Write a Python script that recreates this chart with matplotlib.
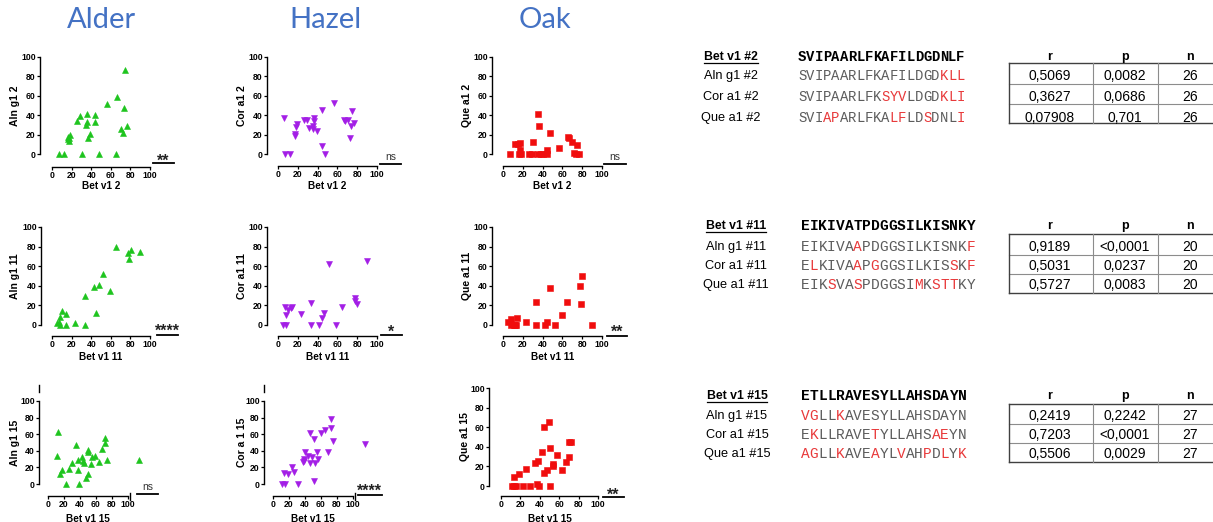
import matplotlib
matplotlib.use("Agg")
import matplotlib.pyplot as plt
from matplotlib.transforms import ScaledTranslation

W, H, DPI = 1213, 522, 100
plt.rcParams['font.family'] = ['Liberation Sans', 'DejaVu Sans']

# ---------------- data ----------------
species_titles = ["Alder", "Hazel", "Oak"]
axis_ticks = [0, 20, 40, 60, 80, 100]

alder2_x = [6.8, 11.9, 30.8, 47.5, 65.8, 74.6, 66.0, 56.6, 73.6, 44.0, 35.6, 28.8, 26.0,
            35.6, 44.0, 35.0, 77.0, 70.0, 39.0, 72.9, 36.3, 18.6, 16.0, 17.0, 17.6, 16.5]
alder2_y = [0, 0, 0, 0, 0, 86.6, 59, 52, 47.6, 40.4, 41, 38.7, 34,
            33, 32.5, 29.5, 28.4, 26, 21, 22, 16.8, 20, 18, 16, 13, 15]
hazel2_x = [6.7, 11.8, 6.1, 19.2, 18.2, 17.5, 16.8, 26.6, 29.6, 31.3, 36.4, 36.4, 35.4,
            35.7, 39.4, 44.4, 47.1, 44.4, 56.9, 66.3, 67.3, 70.4, 74.7, 73.4, 77.1, 72.7]
hazel2_y = [0, 0, 36.8, 30.9, 28.2, 20.6, 18.9, 35.4, 35.4, 27, 37.5, 33.7, 29,
            25.4, 23.7, 8, 0, 45.4, 53, 34.7, 33.7, 34.7, 44.7, 28.9, 32, 16.2]
oak2_x = [6.8, 12.2, 15.3, 17.6, 17.6, 16.0, 18.3, 25.8, 28.8, 30.5, 35.6, 36.3, 35.6,
          37.9, 40.0, 44.0, 44.0, 47.1, 57.0, 65.8, 67.0, 70.2, 74.6, 71.9, 74.0, 77.0]
oak2_y = [0, 10, 10, 11, 4.5, 0, 0, 0, 0, 12.4, 41, 29.2, 0,
          0, 0, 4.5, 0, 21.6, 6.2, 17.2, 16, 12.7, 9.6, 1.4, 0, 0]

alder11_x = [5.4, 7.5, 8.1, 8.5, 10.5, 14.2, 13.9, 23.7, 33.2, 33.9, 42.4, 47.5, 45.1,
             52.5, 59.3, 65.4, 78.0, 78.9, 80.3, 90.2]
alder11_y = [2, 2.7, 0, 8.2, 14, 11.6, 0, 2, 0, 29.3, 38.4, 40.8, 11.9,
             52, 35, 79.3, 73, 67.3, 76.9, 74.1]
hazel11_x = [5.4, 8.1, 7.5, 8.1, 10.2, 13.6, 14.6, 23.0, 32.9, 33.2, 41.7, 44.0, 46.4,
             51.9, 58.3, 64.4, 78.0, 77.3, 80.0, 89.5]
hazel11_y = [0, 0, 18.8, 10.2, 15, 17.7, 18.1, 10.9, 0, 22.2, 0, 7.2, 12.3,
             62.1, 0, 18.4, 27.3, 24.2, 21.2, 64.8]
oak11_x = [5.1, 8.5, 7.8, 10.8, 13.6, 14.6, 23.4, 33.2, 33.6, 42.0, 44.7, 47.1, 52.5,
           59.3, 65.1, 78.0, 78.6, 80.3, 90.2, 12.0]
oak11_y = [3.1, 5.8, 0, 0, 0, 7.1, 2.7, 0, 23.5, 0, 2.7, 38.1, 0,
           10.5, 23.1, 40.1, 21.8, 50.3, 0, 0]

alder15_x = [12.9, 10.8, 14.6, 17.5, 22.5, 25.8, 30.0, 34.6, 37.1, 37.1, 38.8, 42.1, 44.2,
             44.6, 47.1, 49.6, 50.4, 50.0, 53.8, 54.6, 58.3, 63.8, 67.1, 70.8, 71.3, 73.3, 113.3]
alder15_y = [62.2, 33.7, 11.6, 17.3, 0, 17.7, 25.3, 47.4, 29.3, 17.3, 0, 32.9, 27.7,
             25.7, 7.2, 41, 38.6, 12.4, 24.5, 32.5, 34.1, 26.5, 42.2, 55, 49, 28.9, 28.9]
hazel15_x = [11.3, 15.4, 14.2, 18.3, 23.3, 26.7, 30.8, 37.1, 38.3, 38.3, 39.6, 43.3, 45.8,
             45.8, 48.8, 51.3, 52.1, 51.3, 55.0, 55.8, 60.0, 65.4, 68.8, 72.5, 72.5, 74.6, 114.6]
hazel15_y = [0, 0, 13.3, 12.4, 20.9, 14.1, 0, 26.9, 27.3, 30.5, 39, 34.1, 61,
             25.3, 33, 54.2, 25.3, 3.6, 38.6, 29.7, 61.8, 65.5, 38.2, 67.1, 78.7, 51.8, 48.6]
oak15_x = [11.0, 13.0, 15.5, 13.4, 18.2, 23.0, 26.1, 30.2, 35.0, 37.8, 37.5, 38.8, 41.9,
           44.7, 44.3, 47.1, 49.8, 50.2, 50.9, 53.3, 54.0, 57.7, 63.2, 66.7, 70.1, 70.1, 72.5]
oak15_y = [0, 0, 0, 8.9, 12.6, 0, 17.4, 0, 23.2, 25.6, 2.4, 0, 35.2,
           60, 13.7, 16.7, 64.8, 0, 38.9, 22.2, 20.1, 32.1, 16.7, 24.2, 29.4, 44.4, 45.4]

x_labels = ["Bet v1 2", "Bet v1 11", "Bet v1 15"]
y_labels = [["Aln g1 2", "Cor a1 2", "Que a1 2"],
            ["Aln g1 11", "Cor a1 11", "Que a1 11"],
            ["Aln g1 15", "Cor a 1 15", "Que a1 15"]]
sig_labels = [["**", "ns", "ns"], ["****", "*", "**"], ["ns", "****", "**"]]

ref_labels = ["Bet v1 #2", "Bet v1 #11", "Bet v1 #15"]
ref_seqs = ["SVIPAARLFKAFILDGDNLF", "EIKIVATPDGGSILKISNKY", "ETLLRAVESYLLAHSDAYN"]
row_labels = [["Aln g1 #2", "Cor a1 #2", "Que a1 #2"],
              ["Aln g1 #11", "Cor a1 #11", "Que a1 #11"],
              ["Aln g1 #15", "Cor a1 #15", "Que a1 #15"]]
seqs = [["SVIPAARLFKAFILDGDKLL", "SVIPAARLFKSYVLDGDKLI", "SVIAPARLFKALFLDSDNLI"],
        ["EIKIVAAPDGGSILKISNKF", "ELKIVAAPGGGSILKISSKF", "EIKSVASPDGGSIMKSTTKY"],
        ["VGLLKAVESYLLAHSDAYN", "EKLLRAVETYLLAHSAEYN", "AGLLKAVEAYLVAHPDLYK"]]
red_pos = [[[17, 18, 19], [10, 11, 12, 17, 18, 19], [3, 4, 11, 12, 15, 19]],
           [[6, 19], [1, 6, 8, 17, 19], [3, 6, 13, 15, 16, 17]],
           [[0, 1, 4], [1, 8, 15, 16], [0, 1, 4, 8, 11, 14, 16, 18]]]
r_vals = [["0,5069", "0,3627", "0,07908"], ["0,9189", "0,5031", "0,5727"], ["0,2419", "0,7203", "0,5506"]]
p_vals = [["0,0082", "0,0686", "0,701"], ["<0,0001", "0,0237", "0,0083"], ["0,2242", "<0,0001", "0,0029"]]
n_vals = [["26", "26", "26"], ["20", "20", "20"], ["27", "27", "27"]]
table_headers = ["r", "p", "n"]

panel_data = [[(alder2_x, alder2_y), (hazel2_x, hazel2_y), (oak2_x, oak2_y)],
              [(alder11_x, alder11_y), (hazel11_x, hazel11_y), (oak11_x, oak11_y)],
              [(alder15_x, alder15_y), (hazel15_x, hazel15_y), (oak15_x, oak15_y)]]

# ---------------- layout / style ----------------
markers = ['^', 'v', 's']
mcolors = ['#1ec41e', '#a31ee6', '#f00d0d']
title_cx = [101, 325, 545]

# (x0, x1, ytop, ybot, yspine_x, xaxis_y) in pixels
geom = [[(52, 150, 57, 154, 40, 166.5), (278, 377, 57, 154, 267, 166), (503, 602, 57, 154, 492, 166)],
        [(52, 150, 227, 325, 41, 336), (278, 377, 227, 325, 267, 336), (503, 602, 227, 325, 492, 336)],
        [(48, 128, 401, 484, 39, 496), (273, 353, 401, 484, 264, 496), (501, 598, 388, 486, 489, 496)]]
ylabel_cx = [[15, 242, 467], [15, 242, 467], [15, 242, 465]]
xlabel_cy = [186, 357, 519]
# (line x0, line x1, line y, text center y)
sig_geom = [[(153, 174, 163.3, 156.7), (380, 401, 164, 157.7), (604, 626, 164, 157.7)],
            [(156.7, 178.3, 335, 326.7), (381, 401.7, 335, 327.3), (606.7, 627.3, 335.7, 327.3)],
            [(136.7, 158.3, 494, 487.3), (358, 381.7, 495, 486.7), (603, 624, 496.7, 490)]]
broken = [[False, False, False], [False, False, False], [True, True, False]]

fig = plt.figure(figsize=(W / DPI, H / DPI), dpi=DPI)

ov = fig.add_axes([0, 0, 1, 1])
ov.set_xlim(0, W)
ov.set_ylim(H, 0)
ov.axis('off')

def px2pt(p):
    return p * 72.0 / DPI

for i in range(3):
    for j in range(3):
        x0, x1, yt, yb, sx, xa = geom[i][j]
        ax = fig.add_axes([x0 / W, 1 - yb / H, (x1 - x0) / W, (yb - yt) / H])
        ax.patch.set_alpha(0)
        ax.set_xlim(0, 100)
        ax.set_ylim(0, 100)
        for s in ['top', 'right']:
            ax.spines[s].set_visible(False)
        ax.spines['left'].set_position(('outward', px2pt(x0 - sx)))
        ax.spines['bottom'].set_position(('outward', px2pt(xa - yb)))
        ax.spines['left'].set_bounds(0, 100)
        ax.spines['bottom'].set_bounds(0, 100)
        for s in ['left', 'bottom']:
            ax.spines[s].set_linewidth(1.0)
        ax.set_xticks(axis_ticks)
        ax.set_yticks(axis_ticks)
        ax.set_xticklabels([str(t) for t in axis_ticks], fontweight='bold', fontsize=6.2)
        ax.set_yticklabels([str(t) for t in axis_ticks], fontweight='bold', fontsize=6.2)
        ax.tick_params(length=2.0, width=0.9, pad=1.0)
        xs, ys = panel_data[i][j]
        ax.plot(xs, ys, linestyle='none', marker=markers[j], ms=3.7, color=mcolors[j],
                mec=mcolors[j], mew=0.4, clip_on=False, zorder=3)
        ax.set_ylabel(y_labels[i][j], fontsize=7.5, fontweight='bold', va='center')
        ax.yaxis.set_label_coords((ylabel_cx[i][j] - x0) / (x1 - x0), 0.5)
        ax.set_xlabel(x_labels[i], fontsize=7.2, fontweight='bold', va='center')
        ax.xaxis.set_label_coords(0.5, (yb - xlabel_cy[i]) / (yb - yt))
        if broken[i][j]:
            hpx = yb - yt
            tr_y = ax.transAxes + ScaledTranslation(-(x0 - sx) / DPI, 0, fig.dpi_scale_trans)
            ax.plot([0, 0], [1 + 9 / hpx, 1 + 16 / hpx], transform=tr_y, color='k', lw=1.0, clip_on=False)
            tr_x = ax.transAxes + ScaledTranslation(0, -(xa - yb) / DPI, fig.dpi_scale_trans)
            ax.plot([1.028, 1.028], [-3.5 / hpx, 3.5 / hpx], transform=tr_x, color='k', lw=1.0, clip_on=False)
        # significance
        lx0, lx1, ly, ty = sig_geom[i][j]
        lab = sig_labels[i][j]
        ov.plot([lx0, lx1], [ly, ly], color='k', lw=1.3)
        if lab == 'ns':
            ov.text((lx0 + lx1) / 2, ty + 2.7, lab, fontsize=7.5, ha='center', va='baseline', color='#333333')
        else:
            ov.text((lx0 + lx1) / 2, ty + 9.3, lab, fontsize=11.5, fontweight='bold', ha='center',
                    va='baseline', color='#222222')

for j in range(3):
    ov.text(title_cx[j], 20, species_titles[j], fontsize=21, color='#4472C4', ha='center', va='center',
            family=['Lato', 'DejaVu Sans'])

# ---------------- right-side tables ----------------
block_top = [57, 226, 396]
row_y = [[76, 97, 118], [247, 266, 285], [416, 435, 454]]
hlines = [[62.7, 83.7, 104, 123.3], [234, 255, 274, 293], [404, 424, 443, 462]]
label_cx = [731, 736, 737]
seq_x0 = [798, 801, 801]
seq_fs = [10.0, 10.45, 10.45]
col_edges = [1009, 1092.5, 1157.5, 1222]
col_cx = [1050, 1125, 1190]
gray = '#5c5c5c'
red = '#e8393a'

fig.canvas.draw()
renderer = fig.canvas.get_renderer()

for b in range(3):
    t = ov.text(label_cx[b], block_top[b], ref_labels[b], fontsize=8.8, fontweight='bold',
                ha='center', va='center')
    bb = t.get_window_extent(renderer)
    ov.plot([bb.x0, bb.x1], [block_top[b] + 6.4, block_top[b] + 6.4], color='k', lw=0.9)
    step = 0.6 * seq_fs[b] * DPI / 72.0
    for k, ch in enumerate(ref_seqs[b]):
        ov.text(seq_x0[b] + k * step, block_top[b], ch, fontsize=seq_fs[b], fontweight='bold',
                family='Liberation Mono', ha='left', va='center', color='k')
    for h, cx in zip(table_headers, col_cx):
        ov.text(cx, block_top[b], h, fontsize=9, fontweight='bold', ha='center', va='center')
    for r in range(3):
        y = row_y[b][r]
        ov.text(label_cx[b], y, row_labels[b][r], fontsize=9.2, ha='center', va='center')
        for k, ch in enumerate(seqs[b][r]):
            ov.text(seq_x0[b] + k * step, y, ch, fontsize=seq_fs[b], family='Liberation Mono',
                    ha='left', va='center', color=red if k in red_pos[b][r] else gray)
        ov.text(col_cx[0], y, r_vals[b][r], fontsize=10, ha='center', va='center')
        ov.text(col_cx[1], y, p_vals[b][r], fontsize=10, ha='center', va='center')
        ov.text(col_cx[2], y, n_vals[b][r], fontsize=10, ha='center', va='center')
    hl = hlines[b]
    for idx, yy in enumerate(hl):
        outer = idx in (0, len(hl) - 1)
        ov.plot([col_edges[0], col_edges[-1]], [yy, yy], color='#404040' if outer else '#8c8c8c',
                lw=1.0 if outer else 0.8, clip_on=False)
    for idx, xx in enumerate(col_edges):
        outer = idx in (0, len(col_edges) - 1)
        ov.plot([xx, xx], [hl[0], hl[-1]], color='#404040' if outer else '#8c8c8c',
                lw=1.0 if outer else 0.8, clip_on=False)

fig.savefig('out.png', dpi=DPI)
